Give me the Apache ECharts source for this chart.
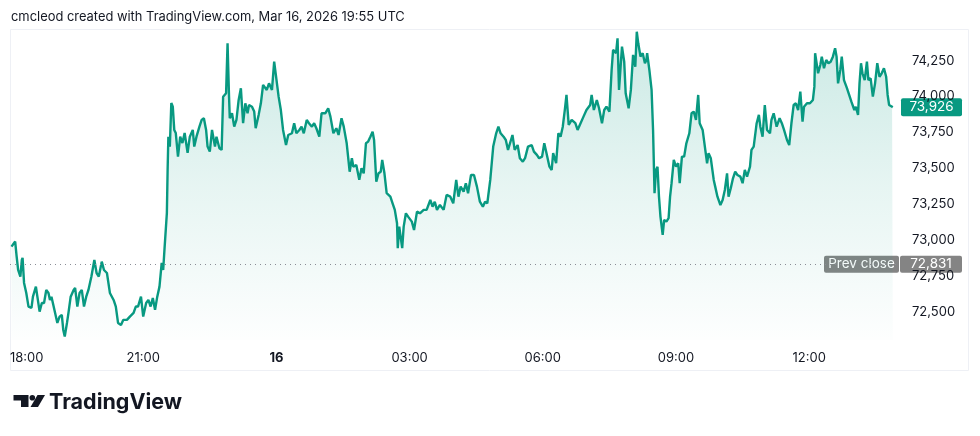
<!DOCTYPE html>
<html>
<head>
<meta charset="utf-8">
<script src="https://cdn.jsdelivr.net/npm/echarts@6/dist/echarts.min.js"></script>
<style>
  html, body { margin: 0; padding: 0; background: #ffffff; }
  #chart { width: 980px; height: 436px; }
</style>
</head>
<body>
<div id="chart"></div>
<script>
// ---- data (minutes after 18:00 on Mar 15, price) ----
const titleText = 'cmcleod created with TradingView.com, Mar 16, 2026 19:55 UTC';
const timeTickLabels = ['18:00', '21:00', '16', '03:00', '06:00', '09:00', '12:00'];
const prevClose = 72831;
const lastPrice = 73926;
const priceSeries = [
  [2,72954],[7,72989],[9,72884],[11,72791],[14,72745],[16,72861],[17,72875],[19,72701],[22,72631],[25,72536],
  [29,72527],[31,72605],[35,72675],[37,72605],[40,72501],[43,72561],[46,72561],[49,72652],[52,72631],[54,72582],
  [56,72605],[59,72536],[61,72527],[64,72422],[67,72466],[70,72478],[72,72373],[74,72327],[77,72422],[79,72492],
  [82,72605],[86,72652],[88,72666],[91,72536],[94,72631],[97,72652],[100,72536],[103,72605],[106,72652],[110,72745],
  [114,72861],[117,72770],[120,72745],[124,72849],[127,72791],[131,72770],[135,72631],[140,72582],[143,72536],[146,72422],
  [150,72408],[153,72443],[158,72443],[162,72466],[167,72492],[170,72536],[173,72536],[177,72605],[180,72466],[184,72561],
  [187,72582],[190,72536],[193,72596],[196,72513],[199,72605],[202,72675],[205,72840],[207,72791],[209,72954],[212,73189],
  [213,73488],[214,73720],[216,73651],[218,73955],[220,73929],[222,73767],[224,73746],[227,73581],[230,73720],[233,73676],
  [236,73746],[240,73607],[243,73720],[247,73767],[249,73651],[252,73720],[256,73790],[259,73837],[262,73849],[265,73767],
  [267,73651],[270,73616],[273,73767],[277,73651],[279,73720],[283,73640],[286,73628],[288,73999],[292,74023],[294,74371],
  [296,73999],[297,73849],[300,73883],[303,73790],[306,73837],[309,73976],[312,74058],[315,73814],[318,73953],[321,73883],
  [323,73941],[327,73929],[330,73895],[332,73779],[336,73872],[339,73953],[342,74081],[347,74046],[350,74092],[354,74046],
  [357,74243],[359,74162],[363,73999],[366,73906],[369,73767],[373,73662],[376,73732],[381,73744],[384,73814],[387,73744],
  [391,73767],[394,73790],[397,73744],[401,73837],[404,73814],[408,73790],[411,73814],[414,73779],[418,73720],[421,73883],
  [426,73883],[430,73918],[433,73860],[437,73744],[441,73779],[444,73732],[448,73849],[451,73790],[455,73674],[459,73476],
  [462,73570],[464,73511],[468,73523],[472,73419],[475,73500],[478,73465],[481,73674],[484,73686],[487,73720],[490,73755],
  [492,73697],[495,73407],[498,73465],[501,73476],[503,73558],[506,73465],[509,73326],[514,73302],[517,73256],[520,73210],
  [523,73117],[524,72943],[526,73093],[528,73082],[530,72943],[532,73093],[535,73186],[538,73163],[543,73128],[546,73070],
  [550,73198],[554,73186],[559,73210],[563,73210],[568,73279],[571,73232],[574,73267],[577,73210],[581,73244],[586,73210],
  [590,73314],[595,73302],[599,73256],[603,73419],[606,73302],[609,73372],[613,73337],[616,73396],[619,73326],[623,73453],
  [627,73453],[631,73372],[635,73267],[639,73232],[642,73267],[645,73256],[649,73419],[651,73535],[653,73651],[657,73744],
  [660,73790],[663,73744],[667,73720],[670,73697],[673,73628],[677,73697],[679,73732],[682,73628],[686,73662],[689,73570],
  [693,73546],[696,73570],[700,73651],[705,73662],[708,73616],[712,73593],[715,73570],[719,73581],[722,73674],[725,73605],
  [729,73511],[732,73488],[734,73605],[738,73535],[741,73744],[744,73720],[747,73790],[750,73918],[752,74011],[755,73802],
  [759,73837],[764,73814],[767,73767],[770,73802],[775,73860],[779,73906],[784,73941],[786,74011],[789,73906],[793,73976],
  [796,73918],[800,73814],[803,73906],[806,73929],[810,73895],[813,74185],[815,74325],[819,74302],[821,74406],[823,74046],
  [827,74348],[830,74243],[832,74023],[836,73918],[839,74046],[842,74290],[845,74208],[847,74452],[849,74371],[852,74278],
  [855,74302],[858,74232],[860,74255],[861,74302],[864,74185],[867,74046],[869,73767],[871,73326],[873,73488],[875,73511],
  [877,73302],[879,73163],[882,73035],[884,73140],[887,73128],[890,73152],[892,73302],[894,73396],[897,73558],[900,73511],
  [903,73535],[905,73396],[908,73581],[911,73581],[914,73674],[918,73744],[921,73883],[924,73895],[927,73837],[930,74011],
  [932,73814],[936,73767],[939,73651],[942,73535],[944,73605],[947,73570],[951,73419],[953,73372],[956,73302],[960,73244],
  [963,73279],[966,73349],[969,73465],[971,73302],[974,73361],[977,73430],[980,73476],[983,73453],[987,73442],[990,73396],
  [993,73488],[996,73442],[1000,73511],[1002,73628],[1005,73651],[1009,73814],[1012,73872],[1014,73790],[1017,73720],[1020,73941],
  [1023,73767],[1027,73744],[1029,73837],[1032,73883],[1036,73790],[1040,73849],[1043,73814],[1046,73767],[1050,73697],[1053,73662],
  [1056,73814],[1059,73941],[1062,73953],[1065,73906],[1068,74034],[1071,73825],[1073,73929],[1077,73953],[1081,73953],[1085,73976],
  [1087,74069],[1088,74302],[1090,74290],[1092,74162],[1095,74220],[1097,74278],[1100,74197],[1103,74255],[1106,74232],[1109,74243],
  [1112,74278],[1115,74336],[1117,74278],[1119,74092],[1122,74185],[1124,74278],[1127,74115],[1131,74058],[1134,74011],[1137,73964],
  [1141,73906],[1143,73929],[1146,73872],[1148,74092],[1150,74232],[1152,74162],[1155,74115],[1158,74243],[1160,74115],[1163,74127],
  [1166,73999],[1169,74092],[1172,74232],[1175,74138],[1178,74162],[1181,74197],[1184,74138],[1186,74011],[1188,73941],[1192,73929],
  [1193,73926]
];

// ---- styles ----
const GREEN = '#089981';
const TXT = '#131722';
const FONT = 'Inter, "Noto Sans", Roboto, sans-serif';

const chart = echarts.init(document.getElementById('chart'), null, { renderer: 'canvas' });

const fmt = v => Math.round(v).toLocaleString('en-US');

chart.setOption({
  animation: false,
  backgroundColor: '#ffffff',
  textStyle: { fontFamily: FONT },
  grid: { left: 10, right: 82, top: 24.8, bottom: 88.4, containLabel: false },
  xAxis: {
    type: 'value',
    min: 0,
    max: 1200,
    interval: 180,
    axisLine: { show: false },
    axisTick: { show: false },
    splitLine: { show: false },
    axisLabel: {
      margin: 4,
      color: TXT,
      fontSize: 13,
      fontFamily: FONT,
      showMaxLabel: false,
      alignMinLabel: 'left',
      formatter: function (v) {
        const i = Math.round(v / 180);
        const s = timeTickLabels[i];
        if (s === undefined) return '';
        return s.indexOf(':') < 0 ? '{b|' + s + '}' : s;
      },
      rich: { b: { fontWeight: 'bold', fontSize: 13, color: TXT, fontFamily: FONT } }
    }
  },
  yAxis: {
    type: 'value',
    position: 'right',
    min: 72250,
    max: 74500,
    interval: 250,
    axisLine: { show: false },
    axisTick: { show: false },
    splitLine: { show: false },
    axisLabel: {
      margin: 14,
      color: TXT,
      fontSize: 13,
      fontFamily: FONT,
      showMinLabel: false,
      showMaxLabel: false,
      formatter: fmt
    }
  },
  series: [{
    type: 'line',
    data: priceSeries,
    showSymbol: false,
    symbol: 'none',
    lineStyle: { color: GREEN, width: 2.4 },
    areaStyle: {
      origin: 72303,
      color: new echarts.graphic.LinearGradient(0, 0, 0, 1, [
        { offset: 0, color: 'rgba(8,153,129,0.30)' },
        { offset: 0.5, color: 'rgba(8,153,129,0.14)' },
        { offset: 1, color: 'rgba(8,153,129,0.01)' }
      ])
    },
    markLine: {
      silent: true,
      symbol: 'none',
      label: { show: false },
      lineStyle: { color: '#8a8d96', width: 1, type: [1, 4] },
      data: [{ yAxis: prevClose }]
    },
    z: 3
  }]
});

// annotation tags placed through the axis scale
const yLast = chart.convertToPixel({ yAxisIndex: 0 }, lastPrice);
const yPrev = chart.convertToPixel({ yAxisIndex: 0 }, prevClose);
const gridRight = 980 - 82;

function tag(x, yc, w, h, bg, text) {
  return {
    type: 'group',
    z: 100,
    children: [
      { type: 'rect', shape: { x: x, y: yc - h / 2, width: w, height: h, r: 2 }, style: { fill: bg } },
      { type: 'text', style: { x: x + w / 2, y: yc, text: text, fill: '#ffffff', font: '13.5px ' + FONT, textAlign: 'center', textVerticalAlign: 'middle' } }
    ]
  };
}

chart.setOption({
  graphic: [
    { type: 'rect', z: -10, shape: { x: 10.5, y: 29.5, width: 958, height: 341 }, style: { fill: 'none', stroke: '#eef0f5', lineWidth: 1 } },
    { type: 'text', style: { x: 11, y: 17, text: titleText, fill: TXT, font: '12.9px ' + FONT, textVerticalAlign: 'middle' } },
    tag(gridRight + 3, yLast, 61, 18, GREEN, fmt(lastPrice)),
    tag(gridRight - 74, yPrev, 75, 17, '#848484', 'Prev close'),
    tag(gridRight + 2, yPrev, 62, 17, '#848484', fmt(prevClose)),
    // TradingView logo
    { type: 'group', children: [
      { type: 'polygon', shape: { points: [[13.5,395],[28.5,395],[28.5,407],[21,407],[21,400.5],[13.5,400.5]] }, style: { fill: '#131722' } },
      { type: 'circle', shape: { cx: 32.3, cy: 397.8, r: 2.8 }, style: { fill: '#131722' } },
      { type: 'polygon', shape: { points: [[37.5,395],[45,395],[38,407],[30.5,407]] }, style: { fill: '#131722' } }
    ]},
    { type: 'text', style: { x: 49, y: 403, text: 'TradingView', fill: '#131722', font: 'bold 21.5px ' + FONT, textVerticalAlign: 'middle' } }
  ]
});
</script>
</body>
</html>
